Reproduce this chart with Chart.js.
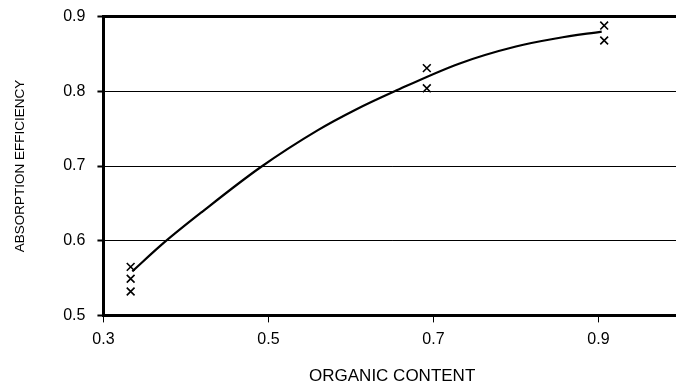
<!DOCTYPE html>
<html>
<head>
<meta charset="utf-8">
<script src="https://cdn.jsdelivr.net/npm/chart.js@4/dist/chart.umd.min.js"></script>
<style>
  html, body { margin: 0; padding: 0; background: #fff; overflow: hidden; }
  body { width: 676px; height: 384px; }
  /* plot runs past the right edge in the reference, so the canvas is a bit bigger than the window */
  #wrap { width: 688px; height: 393px; margin-top: -5px; }
</style>
</head>
<body>
<div id="wrap"><canvas id="chart"></canvas></div>
<script>
// measured points (x marks)
const sampleX = [0.333, 0.333, 0.333, 0.692, 0.692, 0.907, 0.907];
const sampleY = [0.565, 0.549, 0.532, 0.831, 0.804, 0.888, 0.868];

// fitted curve
const curveX = [0.335, 0.373, 0.42, 0.49, 0.56, 0.605, 0.653, 0.731, 0.80, 0.85, 0.904];
const curveY = [0.559, 0.597, 0.639, 0.698, 0.748, 0.775, 0.800, 0.837, 0.860, 0.871, 0.880];

// tick labels
const xTicks = [0.3, 0.5, 0.7, 0.9];
const yTicks = [0.5, 0.6, 0.7, 0.8, 0.9];

const FONT = "'Liberation Sans', Arial, sans-serif";

const ctx = document.getElementById("chart").getContext("2d");

new Chart(ctx, {
  data: {
    datasets: [
      {
        type: "scatter",
        label: "samples",
        data: sampleX.map((x, i) => ({ x: x, y: sampleY[i] })),
        pointStyle: "crossRot",
        pointRadius: 5.5,
        borderColor: "#000",
        borderWidth: 1.6,
      },
      {
        type: "line",
        label: "fit",
        data: curveX.map((x, i) => ({ x: x, y: curveY[i] })),
        borderColor: "#000",
        borderWidth: 2.2,
        pointRadius: 0,
        cubicInterpolationMode: "monotone",
        fill: false,
      },
    ],
  },
  options: {
    responsive: true,
    maintainAspectRatio: false,
    animation: false,
    layout: { padding: { top: 11, right: 0, left: 12, bottom: 1 } },
    plugins: {
      legend: { display: false },
      tooltip: { enabled: false },
    },
    scales: {
      x: {
        type: "linear",
        min: 0.3,
        max: 1.0,
        afterBuildTicks: (axis) => {
          axis.ticks = xTicks.map((v) => ({ value: v }));
        },
        border: { display: true, color: "#000", width: 3 },
        grid: {
          drawOnChartArea: false,
          drawTicks: true,
          tickLength: 7,
          tickColor: "#000",
          tickWidth: 1,
        },
        ticks: {
          color: "#000",
          font: { family: FONT, size: 16 },
          padding: 8,
          maxRotation: 0,
          callback: (v) => v.toFixed(1),
        },
        title: {
          display: true,
          text: "ORGANIC CONTENT",
          color: "#000",
          font: { family: FONT, size: 17 },
          padding: { top: 9, bottom: 0 },
        },
      },
      y: {
        type: "linear",
        min: 0.5,
        max: 0.9,
        afterBuildTicks: (axis) => {
          axis.ticks = yTicks.map((v) => ({ value: v }));
        },
        border: { display: true, color: "#000", width: 3 },
        grid: {
          color: "#000",
          lineWidth: (c) => (c.tick && (c.tick.value === 0.9 || c.tick.value === 0.5) ? 3 : 1),
          drawTicks: true,
          tickLength: 6,
          tickColor: "#000",
          tickWidth: 2,
        },
        ticks: {
          color: "#000",
          font: { family: FONT, size: 16 },
          padding: 12,
          callback: (v) => v.toFixed(1),
        },
        title: {
          display: true,
          text: "ABSORPTION EFFICIENCY",
          color: "#000",
          font: { family: FONT, size: 13.5 },
          padding: { top: 0, bottom: 23 },
        },
      },
    },
  },
});
</script>
</body>
</html>
